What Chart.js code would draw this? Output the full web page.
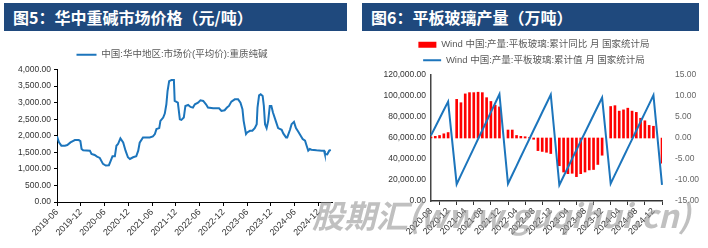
<!DOCTYPE html>
<html>
<head>
<meta charset="utf-8">
<script src="https://cdn.jsdelivr.net/npm/chart.js@4.4.1/dist/chart.umd.min.js"></script>
<style>
  body { margin: 0; width: 708px; height: 248px; background: #fff; position: relative; overflow: hidden; }
  .title { position: absolute; top: 3px; height: 28px; background: #1f497d; color: #fff;
    font: bold 16px "Noto Sans CJK SC", sans-serif; line-height: 28px; padding-left: 9px; box-sizing: border-box; }
  canvas { position: absolute; top: 32px; }
  .mark { position: absolute; left: 312px; top: 198px; font: italic bold 32px "Noto Sans CJK SC", "Liberation Sans", sans-serif;
    line-height: 32px; color: rgba(150,150,150,0.6); white-space: nowrap; z-index: 5; }
</style>
</head>
<body>
<div class="title" style="left:4px;width:343px">图5：华中重碱市场价格（元/吨）</div>
<div class="title" style="left:362px;width:337px">图6：平板玻璃产量（万吨）</div>
<canvas id="soda" width="354" height="216" style="left:0"></canvas>
<canvas id="glass" width="354" height="216" style="left:354px"></canvas>
<div class="mark">股期汇(www.guqihui.cn)</div>
<script>
  // 图5 华中重碱市场价
  var priceDates = ['2019-06-01','2019-06-16','2019-07-04','2019-08-01','2019-08-19','2019-09-13','2019-10-01','2019-10-16','2019-11-16','2019-11-28',
    '2019-12-07','2019-12-19','2020-02-10','2020-02-22','2020-03-16','2020-04-04','2020-04-25','2020-05-19','2020-06-10','2020-07-04',
    '2020-07-16','2020-08-01','2020-08-19','2020-09-01','2020-09-13','2020-10-01','2020-10-22','2020-11-10','2020-11-28','2020-12-13',
    '2021-01-07','2021-02-01','2021-02-16','2021-02-27','2021-03-22','2021-05-13','2021-06-07','2021-06-22','2021-07-04','2021-07-25',
    '2021-08-04','2021-08-25','2021-09-07','2021-09-19','2021-09-28','2021-10-10','2021-10-28','2021-11-16','2021-11-22','2021-12-16',
    '2022-01-01','2022-01-13','2022-02-01','2022-02-13','2022-03-04','2022-03-22','2022-04-10','2022-04-25','2022-05-19','2022-06-07',
    '2022-06-28','2022-07-19','2022-08-04','2022-09-13','2022-10-28','2022-11-16','2022-12-10','2022-12-28','2023-01-13','2023-02-01',
    '2023-02-27','2023-03-22','2023-04-10','2023-04-25','2023-05-04','2023-05-22','2023-06-01','2023-06-22','2023-07-10','2023-07-28',
    '2023-08-13','2023-08-19','2023-09-01','2023-09-13','2023-09-28','2023-10-07','2023-10-16','2023-10-28','2023-11-10','2023-11-22',
    '2023-12-04','2023-12-16','2024-01-07','2024-01-25','2024-02-22','2024-03-04','2024-03-25','2024-04-04','2024-04-25','2024-05-07',
    '2024-05-25','2024-06-10','2024-06-28','2024-07-16','2024-08-01','2024-08-19','2024-09-01','2024-09-13','2024-09-25','2024-10-07',
    '2024-11-16','2024-12-25','2025-01-13','2025-01-19','2025-02-07','2025-02-22','2025-03-04'];
  var priceValues = [1980,1800,1700,1700,1720,1800,1840,1870,1870,1840,
    1600,1560,1550,1450,1420,1370,1330,1150,1100,1110,
    1230,1380,1380,1700,1750,1920,1800,1550,1350,1300,
    1350,1380,1550,1790,1950,1950,1980,2050,2200,2230,
    2450,2550,2670,2950,3350,3650,3680,3680,3050,3000,
    2500,2480,2550,2900,2930,2870,2850,2950,3000,3070,
    3050,2950,2850,2830,2830,2750,2770,2850,2900,3030,
    3100,3100,3000,2800,2450,2050,2100,2150,2150,2230,
    2350,2850,3220,3250,3200,2900,2350,2230,2450,2900,
    2900,2700,2450,2230,2180,2070,1950,1950,2180,2350,
    2420,2230,2120,2000,1900,1850,1700,1550,1600,1580,
    1560,1550,1550,1450,1440,1550,1570];
  var priceTicks = ['2019-06','2019-12','2020-06','2020-12','2021-06','2021-12','2022-06','2022-12',
    '2023-06','2023-12','2024-06','2024-12'];

  // 图6 平板玻璃产量
  var glassMonths = ['2020-08','2020-09','2020-10','2020-11','2020-12',
    '2021-01','2021-02','2021-03','2021-04','2021-05','2021-06','2021-07','2021-08','2021-09','2021-10','2021-11','2021-12',
    '2022-01','2022-02','2022-03','2022-04','2022-05','2022-06','2022-07','2022-08','2022-09','2022-10','2022-11','2022-12',
    '2023-01','2023-02','2023-03','2023-04','2023-05','2023-06','2023-07','2023-08','2023-09','2023-10','2023-11','2023-12',
    '2024-01','2024-02','2024-03','2024-04','2024-05','2024-06','2024-07','2024-08','2024-09','2024-10','2024-11','2024-12',
    '2025-01','2025-02'];
  var glassYoy = [0.2,0.4,0.6,1.0,1.3,
    null,9.2,8.4,10.5,10.8,10.8,10.9,10.8,9.6,8.7,7.8,7.4,
    null,1.9,1.9,0.6,0.4,0.3,0.1,-0.3,-3.0,-3.2,-3.4,-3.7,
    null,-6.6,-8.1,-8.5,-8.4,-9.2,-8.5,-8.1,-7.6,-7.5,-6.3,-4.1,
    null,7.5,7.7,6.4,6.7,7.1,6.4,6.1,4.7,4.1,3.0,2.8,
    null,-6.0];
  var glassTotal = [62500,70500,78600,86600,94600,
    null,16000,24700,33200,41800,50400,59000,67500,76000,84600,93100,101700,
    null,16400,25000,33500,42100,50600,59100,67600,76000,84500,92900,101300,
    null,15200,23600,31900,40300,48600,57000,65300,73600,81900,90200,98500,
    null,16600,25100,33500,41900,50300,58700,67100,75500,83900,92300,100700,
    null,15300];

  var FONT = '"Liberation Sans", "Noto Sans CJK SC", sans-serif';

  function monthPos(s) {
    var p = s.split('-').map(Number);
    return (p[0] - 2019) * 12 + (p[1] - 6) + ((p[2] || 1) - 1) / 30;
  }
  function money(v) {
    return v.toLocaleString('en-US', { minimumFractionDigits: 2, maximumFractionDigits: 2 });
  }

  new Chart(document.getElementById('soda'), {
    type: 'line',
    data: {
      datasets: [{
        label: '中国:华中地区:市场价(平均价):重质纯碱',
        data: priceDates.map(function(d, i) { return { x: monthPos(d), y: priceValues[i] }; }),
        borderColor: '#1c75bc',
        backgroundColor: '#1c75bc',
        borderWidth: 2,
        pointRadius: 0,
        pointStyle: 'line',
        tension: 0
      }]
    },
    options: {
      responsive: false,
      animation: false,
      layout: { padding: { top: 8, right: 22, left: 12, bottom: 0 } },
      plugins: {
        tooltip: { enabled: false },
        legend: {
          labels: { usePointStyle: true, pointStyleWidth: 20, boxHeight: 8, color: '#595959',
            font: { family: FONT, size: 9.5 }, padding: 10 }
        }
      },
      scales: {
        x: {
          type: 'linear', min: 0, max: 69.4,
          afterBuildTicks: function(s) {
            s.ticks = priceTicks.map(function(t) { return { value: monthPos(t) }; });
          },
          afterFit: function(s) { s.height = 46; },
          ticks: { autoSkip: false, maxRotation: 45, minRotation: 45, padding: 1, color: '#333',
            font: { family: FONT, size: 9 },
            callback: function(v, i) { return priceTicks[i]; } },
          grid: { drawOnChartArea: false, tickLength: 4, color: '#000' },
          border: { color: '#000', width: 1 }
        },
        y: {
          min: 0, max: 4000,
          afterFit: function(s) { s.width = 45; },
          ticks: { stepSize: 500, padding: 3, color: '#333', font: { family: FONT, size: 8.5 }, callback: money },
          grid: { drawOnChartArea: false, tickLength: 3, color: '#000' },
          border: { color: '#000', width: 1 }
        }
      }
    }
  });

  new Chart(document.getElementById('glass'), {
    type: 'bar',
    data: {
      labels: glassMonths,
      datasets: [{
        type: 'bar',
        label: 'Wind 中国:产量:平板玻璃:累计同比 月 国家统计局',
        data: glassYoy,
        yAxisID: 'y1',
        backgroundColor: '#ff0000',
        barThickness: 2,
        pointStyle: 'rect',
        order: 2
      }, {
        type: 'line',
        label: 'Wind 中国:产量:平板玻璃:累计值 月 国家统计局',
        data: glassTotal,
        yAxisID: 'y',
        borderColor: '#1c75bc',
        backgroundColor: '#1c75bc',
        borderWidth: 2,
        pointRadius: 0,
        pointStyle: 'line',
        spanGaps: true,
        tension: 0,
        order: 1
      }]
    },
    options: {
      responsive: false,
      animation: false,
      layout: { padding: { top: 2, right: 0, left: 6, bottom: 0 } },
      plugins: {
        tooltip: { enabled: false },
        legend: {
          labels: { usePointStyle: true, pointStyleWidth: 18, boxHeight: 6, color: '#595959',
            font: { family: FONT, size: 9.5 }, padding: 6,
            sort: function(a, b) { return a.datasetIndex - b.datasetIndex; } }
        }
      },
      scales: {
        x: {
          offset: false,
          afterFit: function(s) { s.height = 47; },
          ticks: { autoSkip: false, maxRotation: 45, minRotation: 45, padding: 1, color: '#333',
            font: { family: FONT, size: 9 },
            callback: function(v, i) { return i % 4 === 0 ? glassMonths[i] : null; } },
          grid: { drawOnChartArea: false, tickLength: 4, color: '#333' },
          border: { color: '#333', width: 1.5 }
        },
        y: {
          position: 'left', min: 0, max: 120000,
          afterFit: function(s) { s.width = 71; },
          ticks: { stepSize: 20000, padding: 5, color: '#333', font: { family: FONT, size: 8.5 }, callback: money },
          grid: { drawOnChartArea: false, drawTicks: false },
          border: { color: '#444', width: 1.5 }
        },
        y1: {
          position: 'right', min: -15, max: 15,
          afterFit: function(s) { s.width = 46; },
          ticks: { stepSize: 5, padding: 5, color: '#666', font: { family: FONT, size: 8.5 }, callback: money },
          grid: { display: false },
          border: { display: false }
        }
      }
    }
  });
</script>
</body>
</html>
